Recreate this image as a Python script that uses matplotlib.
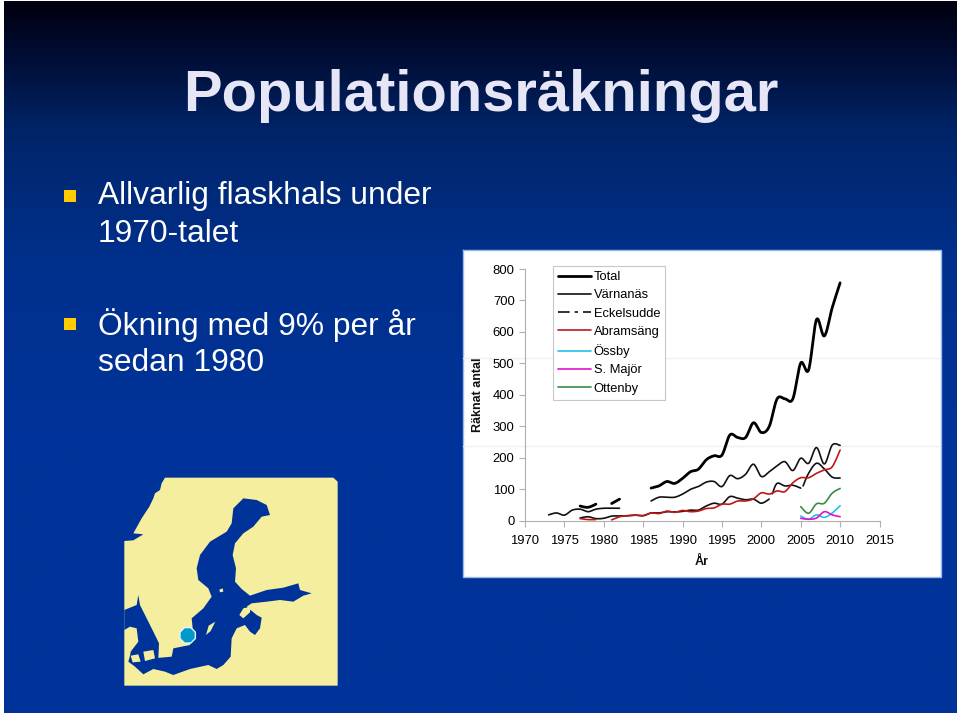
import numpy as np
import matplotlib
matplotlib.use("Agg")
import matplotlib.pyplot as plt
from matplotlib.patches import Polygon, Rectangle, RegularPolygon
from matplotlib.colors import LinearSegmentedColormap

plt.rcParams['font.family'] = ['Liberation Sans', 'DejaVu Sans']

# ---------- data ----------
total_a_years = [1977, 1978, 1979]
total_a = [46, 42, 52]
total_b_years = [1981, 1982]
total_b = [54, 68]
total_c_years = list(range(1986, 2011))
total_c = [103, 110, 124, 118, 134, 155, 163, 193, 206, 208, 272, 264, 264, 311, 280,
           299, 387, 387, 387, 501, 479, 639, 587, 677, 756]

varnanas_a_years = [1973, 1974, 1975, 1976, 1977, 1978, 1979, 1980, 1981, 1982]
varnanas_a = [18, 24, 17, 33, 36, 28, 36, 39, 39, 39]
varnanas_b_years = list(range(1986, 2011))
varnanas_b = [62, 74, 74, 74, 84, 99, 108, 122, 124, 108, 143, 133, 147, 179, 140,
              155, 174, 187, 159, 198, 182, 232, 180, 240, 239]

eckel_a_years = list(range(1977, 2002))
eckel_a = [8, 12, 6, 7, 14, 14, 15, 17, 15, 24, 24, 28, 27, 29, 33, 33, 46, 55, 52, 76,
           71, 66, 68, 55, 68]
eckel_b_years = [2001.4, 2002, 2003, 2004, 2005]
eckel_b = [85, 118, 110, 112, 103]
eckel_c_years = [2005.3, 2006, 2007, 2008, 2009, 2010]
eckel_c = [110, 150, 182, 164, 138, 135]

abram_a_years = [1977, 1978, 1979]
abram_a = [6, 3, 3]
abram_b_years = list(range(1981, 2011))
abram_b = [2, 12, 15, 17, 16, 24, 22, 30, 26, 32, 28, 30, 38, 40, 52, 52, 62, 62, 69, 88,
           84, 94, 92, 120, 136, 136, 150, 161, 171, 224]

site_years = [2005, 2006, 2007, 2008, 2009, 2010]
ossby = [14, 4, 18, 10, 24, 47]
s_major = [7, 4, 8, 28, 18, 12]
ottenby = [44, 23, 53, 55, 87, 102]

x_ticks = list(range(1970, 2016, 5))
y_ticks = list(range(0, 801, 100))

W, H = 960, 716
fig = plt.figure(figsize=(W / 100, H / 100), dpi=100, facecolor='white')


def px_axes(x0, y0, x1, y1, **kw):
    return fig.add_axes([x0 / W, 1 - y1 / H, (x1 - x0) / W, (y1 - y0) / H], **kw)


def ptext(x, y, s, **kw):
    return fig.text(x / W, 1 - y / H, s, **kw)


def smooth(xs, ys, n=16):
    """Spreadsheet-style smoothed line drawn through the read values."""
    xs = np.asarray(xs, float)
    ys = np.asarray(ys, float)
    px = np.r_[xs[0], xs, xs[-1]]
    py = np.r_[ys[0], ys, ys[-1]]
    ox, oy = [], []
    t = np.linspace(0, 1, n, endpoint=False)
    for i in range(1, len(px) - 2):
        for a, out in ((px, ox), (py, oy)):
            p0, p1, p2, p3 = a[i - 1], a[i], a[i + 1], a[i + 2]
            out.extend(0.5 * (2 * p1 + (p2 - p0) * t + (2 * p0 - 5 * p1 + 4 * p2 - p3) * t ** 2
                              + (3 * p1 - p0 - 3 * p2 + p3) * t ** 3))
    ox.append(xs[-1])
    oy.append(ys[-1])
    return ox, oy


# ---------- slide background ----------
bg = px_axes(4, 1, 957, 713)
cmap = LinearSegmentedColormap.from_list('slide', [(0, '#00000f'), (0.06, '#000a2c'), (0.18, '#002468'),
                                                   (0.36, '#00308c'), (0.6, '#003399'), (1, '#003399')])
bg.imshow(np.linspace(0, 1, 256)[:, None], aspect='auto', cmap=cmap, vmin=0, vmax=1, extent=[0, 1, 0, 1])
bg.axis('off')

# title and bullets
ptext(481, 96, 'Populationsräkningar', color='#e6e6f6', fontsize=41.7, fontweight='bold', ha='center', va='center')
for line_y, s in [(196, 'Allvarlig flaskhals under'), (234, '1970-talet'),
                  (325, 'Ökning med 9% per år'), (363, 'sedan 1980')]:
    ptext(98, line_y, s, color='white', fontsize=22.85, ha='left', va='center')
for by in (196, 324):
    bg.add_patch(Rectangle(((64 - 4) / 953, 1 - (by + 6 - 1) / 712), 12 / 953, 12 / 712,
                           transform=bg.transAxes, color='#ffcc00', lw=0))

# ---------- map (decorative) ----------
SEA = '#003399'
LAND = '#f5ee9e'
mp = px_axes(110, 465, 350, 695)
mp.set_xlim(0, 720)
mp.set_ylim(690, 0)
mp.axis('off')
land = [(165, 38), (670, 38), (683, 50), (683, 662), (43, 662), (43, 228), (70, 226), (100, 208), (70, 205),
        (95, 160), (118, 125), (130, 100), (135, 85), (150, 75), (155, 55)]
mp.add_patch(Polygon(land, closed=True, fc=LAND, ec='none'))
sea = [(400, 100), (440, 105), (470, 120), (480, 150), (455, 155), (430, 185), (400, 205), (375, 235), (368, 270),
       (378, 310), (375, 350), (395, 372), (420, 392), (470, 375), (520, 368), (565, 355), (570, 375), (605, 385),
       (580, 392), (550, 410), (510, 405), (470, 410), (425, 415), (410, 425), (440, 450), (455, 458), (450, 490),
       (435, 510), (420, 500), (405, 480), (380, 490), (365, 520), (362, 575), (340, 600), (320, 612), (295, 600),
       (240, 612), (190, 630), (165, 620), (130, 612), (100, 628), (75, 605), (55, 590), (62, 565), (90, 560),
       (130, 580), (185, 575), (190, 550), (240, 540), (250, 510), (245, 460), (280, 430), (305, 395), (295, 370),
       (265, 345), (260, 310), (270, 270), (300, 230), (350, 200), (365, 175), (370, 130)]
mp.add_patch(Polygon(sea, closed=True, fc=SEA, ec='none'))
kattegat = [(43, 435), (80, 420), (85, 390), (90, 420), (105, 450), (130, 500), (147, 535), (145, 580), (90, 600),
            (60, 590), (62, 560), (85, 530), (80, 490), (60, 485), (43, 495)]
mp.add_patch(Polygon(kattegat, closed=True, fc=SEA, ec='none'))
for isl in ([(288, 510), (296, 482), (316, 470), (302, 498)],
            [(388, 450), (400, 430), (422, 425), (420, 442), (400, 460)],
            [(100, 560), (130, 555), (135, 580), (105, 588)],
            [(62, 572), (85, 568), (92, 590), (68, 592)],
            [(328, 374), (338, 370), (340, 380), (330, 382)]):
    mp.add_patch(Polygon(isl, closed=True, fc=LAND, ec='none'))
mp.add_patch(RegularPolygon((233, 511), 8, radius=25, orientation=np.pi / 8, fc='#0099cc', ec='#e6f6ff', lw=1))

# ---------- chart panel ----------
panel = px_axes(463, 250, 941, 577)
panel.set_xlim(0, 1)
panel.set_ylim(0, 1)
panel.set_xticks([])
panel.set_yticks([])
panel.set_facecolor('white')
for sp in panel.spines.values():
    sp.set_visible(False)
panel.plot([0, 1, 1, 0, 0], [1, 1, 0, 0, 1], color='#9db8ea', lw=1, clip_on=False)
for frac in ((358 - 250) / 327, (446 - 250) / 327):
    panel.plot([0, 1], [1 - frac, 1 - frac], color='#f0f0f0', lw=1)

ax = px_axes(525, 269, 879.5, 520.5)
ax.patch.set_alpha(0)
ax.set_xlim(1970, 2015)
ax.set_ylim(0, 800)

specs = [
    ('Total', 'black', 2.0, '-', [(total_a_years, total_a), (total_b_years, total_b), (total_c_years, total_c)]),
    ('Värnanäs', '#111111', 1.2, '-', [(varnanas_a_years, varnanas_a), (varnanas_b_years, varnanas_b)]),
    ('Eckelsudde', '#111111', 1.2, '-', [(eckel_a_years, eckel_a), (eckel_b_years, eckel_b), (eckel_c_years, eckel_c)]),
    ('Abramsäng', '#c01818', 1.2, '-', [(abram_a_years, abram_a), (abram_b_years, abram_b)]),
    ('Össby', '#22c0e8', 1.2, '-', [(site_years, ossby)]),
    ('S. Majör', '#e010d0', 1.2, '-', [(site_years, s_major)]),
    ('Ottenby', '#3a8a48', 1.2, '-', [(site_years, ottenby)]),
]
for label, color, lw, ls, segs in specs:
    for i, (xs, ys) in enumerate(segs):
        sx, sy = smooth(xs, ys)
        ax.plot(sx, sy, color=color, lw=lw, ls=ls, solid_capstyle='round', label=label if i == 0 else None)

ax.set_xticks(x_ticks)
ax.set_yticks(y_ticks)
ax.tick_params(axis='both', labelsize=9.4, color='#b0b0b0', length=4, width=0.8, labelcolor='black')
ax.tick_params(axis='x', pad=6.5)
ax.tick_params(axis='y', pad=3.5)
for s in ('top', 'right'):
    ax.spines[s].set_visible(False)
for s in ('left', 'bottom'):
    ax.spines[s].set_color('#b0b0b0')
    ax.spines[s].set_linewidth(0.8)

ptext(478, 395, 'Räknat antal', rotation=90, fontsize=9, fontweight='bold', ha='center', va='center', color='#111111')
ptext(702, 561.5, 'År', fontsize=9, fontweight='bold', ha='center', va='center', color='#111111')

handles, labels = ax.get_legend_handles_labels()
handles[2] = plt.Line2D([], [], color='#111111', lw=1.2, dashes=(7, 3, 2, 3, 7, 0))
leg = ax.legend(handles, labels, loc='upper left', bbox_to_anchor=((553 - 525) / 354.5, 1 - (266 - 269) / 251.5),
                fontsize=9.3, frameon=True, fancybox=False, edgecolor='#c8c8c8', framealpha=1,
                borderaxespad=0, borderpad=0.4, labelspacing=0.48, handlelength=2.55, handletextpad=0.2)
leg.get_frame().set_linewidth(0.8)

fig.savefig('out.png', dpi=100, facecolor='white')
